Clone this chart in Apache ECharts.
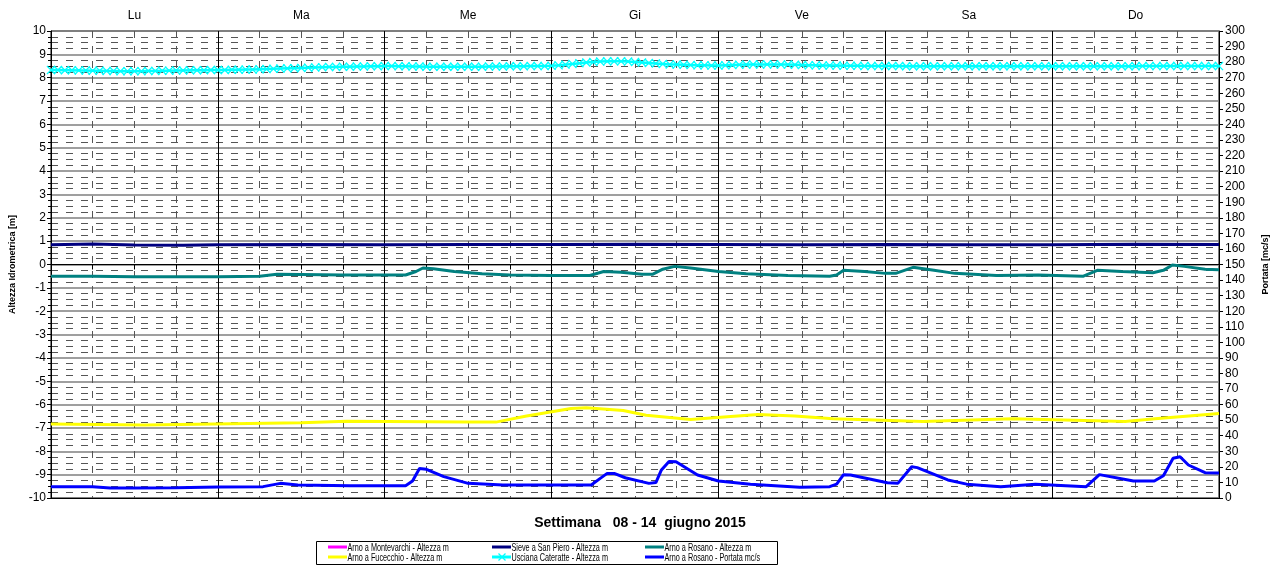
<!DOCTYPE html>
<html>
<head>
<meta charset="utf-8">
<script src="https://cdn.jsdelivr.net/npm/echarts@6/dist/echarts.min.js"></script>
<style>
  html, body { margin: 0; padding: 0; background: #fff; }
  #chart { width: 1278px; height: 567px; }
</style>
</head>
<body>
<div id="chart"></div>
<script>
// giorni della settimana (etichette in alto)
const days = ['Lu', 'Ma', 'Me', 'Gi', 'Ve', 'Sa', 'Do']
const title = 'Settimana   08 - 14  giugno 2015'

// ore dall'inizio della settimana
const montevarchi = []

const sievePiero = [
  [0, 0.85], [6, 0.88], [12, 0.84], [19, 0.82], [24, 0.85], [36, 0.86], [48, 0.85],
  [60, 0.86], [72, 0.86], [84, 0.87], [96, 0.86], [108, 0.85], [120, 0.86],
  [132, 0.85], [144, 0.85], [156, 0.87], [168, 0.86]
]

const rosanoAltezza = [
  [0, -0.5], [6, -0.5], [12, -0.52], [24, -0.52], [30, -0.5], [32.5, -0.42], [36, -0.43],
  [42, -0.45], [51, -0.45], [52.5, -0.3], [53.5, -0.15], [55, -0.18], [58, -0.3],
  [62, -0.4], [66, -0.45], [72, -0.47], [77.5, -0.47], [79.5, -0.3], [82, -0.33],
  [85, -0.42], [86.5, -0.42], [88, -0.2], [89.7, -0.08], [92, -0.15], [96, -0.3],
  [100, -0.4], [106, -0.47], [112, -0.5], [113, -0.45], [114, -0.25], [117, -0.3],
  [120, -0.38], [121.5, -0.38], [124, -0.12], [127, -0.25], [130, -0.38], [136, -0.47],
  [142, -0.45], [148.5, -0.5], [150.5, -0.25], [154, -0.3], [158.5, -0.35], [160, -0.25],
  [161.3, -0.02], [163, -0.08], [166, -0.2], [168, -0.22]
]

const fucecchio = [
  [0, -6.83], [13.5, -6.87], [21, -6.84], [36, -6.78], [42.5, -6.71], [60, -6.75],
  [64, -6.75], [68.4, -6.49], [74.8, -6.17], [77, -6.14], [82.3, -6.25], [85.6, -6.46],
  [92, -6.64], [96.3, -6.54], [101.7, -6.42], [107, -6.49], [112.5, -6.61], [125.4, -6.72],
  [138.3, -6.61], [154.5, -6.72], [158.8, -6.61], [166.3, -6.42], [168, -6.38]
]

// Usciana Cateratte, un valore per ora (0..168)
const usciana = [
  8.33, 8.33, 8.32, 8.32, 8.31, 8.31, 8.30, 8.30, 8.29, 8.29, 8.28, 8.28, 8.28, 8.28, 8.29, 8.29, 8.30, 8.30, 8.31, 8.31, 8.32, 8.32, 8.32, 8.33,
  8.33, 8.33, 8.34, 8.34, 8.35, 8.35, 8.36, 8.37, 8.38, 8.39, 8.40, 8.41, 8.42, 8.43, 8.44, 8.45, 8.46, 8.46, 8.47, 8.47, 8.48, 8.48, 8.49, 8.49,
  8.50, 8.50, 8.49, 8.49, 8.48, 8.48, 8.47, 8.47, 8.47, 8.47, 8.47, 8.47, 8.47, 8.47, 8.47, 8.48, 8.48, 8.48, 8.49, 8.49, 8.49, 8.50, 8.50, 8.50,
  8.51, 8.53, 8.56, 8.59, 8.62, 8.65, 8.67, 8.69, 8.70, 8.70, 8.70, 8.69, 8.67, 8.65, 8.63, 8.61, 8.59, 8.57, 8.56, 8.55, 8.54, 8.53, 8.53, 8.52,
  8.52, 8.53, 8.54, 8.55, 8.56, 8.57, 8.57, 8.57, 8.57, 8.56, 8.56, 8.55, 8.54, 8.53, 8.53, 8.52, 8.52, 8.52, 8.51, 8.51, 8.51, 8.50, 8.50, 8.50,
  8.50, 8.50, 8.50, 8.49, 8.49, 8.49, 8.49, 8.49, 8.49, 8.49, 8.49, 8.49, 8.49, 8.49, 8.49, 8.49, 8.49, 8.49, 8.49, 8.49, 8.49, 8.49, 8.49, 8.49,
  8.49, 8.49, 8.49, 8.49, 8.49, 8.49, 8.49, 8.49, 8.49, 8.49, 8.49, 8.49, 8.49, 8.50, 8.50, 8.50, 8.50, 8.50, 8.50, 8.50, 8.50, 8.50, 8.50, 8.50,
  8.50
]

const rosanoPortata = [
  [0, 7.3], [6, 7.3], [8.5, 6.4], [12, 6.5], [18, 6.6], [24, 7.0], [30.5, 7.3], [33, 9.4],
  [35.5, 8.4], [43, 7.9], [51, 7.9], [52, 10.9], [53, 19.0], [54, 18.4], [56.5, 13.7],
  [60, 9.4], [65, 8.4], [77.7, 8.4], [79, 12.6], [80, 15.8], [81, 15.8], [82.6, 13.0],
  [86, 9.4], [87, 9.9], [87.8, 18.0], [88.9, 23.5], [89.9, 23.3], [93, 14.8], [96, 10.9],
  [100.6, 8.8], [107.7, 6.9], [112, 7.3], [113, 8.9], [114, 15.0], [115, 14.8],
  [120.3, 9.8], [121.8, 9.4], [123.8, 20.1], [124.6, 19.5], [129, 11.6], [131.7, 8.9],
  [136.6, 7.3], [141.6, 8.8], [148.9, 7.3], [150.8, 15.0], [155.7, 10.9], [158.7, 10.9],
  [160, 14.3], [161.4, 25.5], [162.4, 26.5], [163.6, 21.2], [166, 16.3], [168, 16.0]
]

const FONT = "'Liberation Sans', Arial, sans-serif"
const X_SYMBOL = 'path://M0,1L1,0L5,4L9,0L10,1L6,5L10,9L9,10L5,6L1,10L0,9L4,5Z'

// serie: nome, colore
const NAMES = {
  montevarchi: 'Arno a Montevarchi - Altezza m',
  fucecchio: 'Arno a Fucecchio - Altezza m',
  sieve: 'Sieve a San Piero - Altezza m',
  usciana: 'Usciana Cateratte - Altezza m',
  rosanoH: 'Arno a Rosano - Altezza m',
  rosanoQ: 'Arno a Rosano - Portata mc/s'
}
const COLORS = {
  montevarchi: '#ff00ff', fucecchio: '#ffff00', sieve: '#000080',
  usciana: '#00ffff', rosanoH: '#008080', rosanoQ: '#0000ff'
}

const chart = echarts.init(document.getElementById('chart'))

const lineSeries = (key, data, extra) => Object.assign({
  name: NAMES[key],
  type: 'line',
  data,
  showSymbol: false,
  symbol: 'none',
  lineStyle: { color: COLORS[key], width: 3 },
  itemStyle: { color: COLORS[key] },
  emphasis: { disabled: true },
  z: 3
}, extra || {})

// legenda disegnata a mano (riquadro stile Excel, 3 colonne x 2 righe)
const legendLayout = [
  ['montevarchi', 328, 547], ['fucecchio', 328, 557],
  ['sieve', 492, 547], ['usciana', 492, 557],
  ['rosanoH', 645, 547], ['rosanoQ', 645, 557]
]
const legendGraphics = [{
  type: 'rect',
  left: 316, top: 541, z: 10,
  shape: { width: 461, height: 23 },
  style: { fill: '#fff', stroke: '#000', lineWidth: 1 }
}]
legendLayout.forEach(([key, x, y]) => {
  legendGraphics.push({
    type: 'rect', z: 11,
    shape: { x, y: y - 1.5, width: 19, height: 3 },
    style: { fill: COLORS[key] }
  })
  if (key === 'usciana') {
    legendGraphics.push({
      type: 'polyline', z: 12,
      shape: { points: [[x + 6.5, y - 3.5], [x + 13.5, y + 3.5]] },
      style: { stroke: COLORS[key], lineWidth: 1.2 }
    }, {
      type: 'polyline', z: 12,
      shape: { points: [[x + 13.5, y - 3.5], [x + 6.5, y + 3.5]] },
      style: { stroke: COLORS[key], lineWidth: 1.2 }
    })
  }
  legendGraphics.push({
    type: 'text', z: 11,
    x: x + 19.5, y: y + 0.5,
    scaleX: 0.66,
    style: {
      text: NAMES[key], fill: '#000', fontSize: 11, fontFamily: FONT,
      verticalAlign: 'middle', align: 'left'
    }
  })
})

chart.setOption({
  animation: false,
  backgroundColor: '#fff',
  textStyle: { fontFamily: FONT },
  title: {
    text: title,
    left: 635,
    textAlign: 'center',
    top: 511,
    textStyle: { fontSize: 14, fontWeight: 'bold', color: '#000', fontFamily: FONT }
  },
  grid: {
    left: 49, right: 57, top: 31, bottom: 69,
    show: true, borderColor: '#000', borderWidth: 1, backgroundColor: '#fff'
  },
  graphic: legendGraphics,
  xAxis: [
    {
      type: 'value',
      min: 0, max: 168, interval: 24,
      axisLine: { lineStyle: { color: '#000' } },
      axisTick: { show: true, length: 5, lineStyle: { color: '#000' } },
      minorTick: { show: true, splitNumber: 4, length: 5, lineStyle: { color: '#000' } },
      axisLabel: { show: false },
      splitLine: { show: true, lineStyle: { color: '#000', width: 1 } },
      minorSplitLine: { show: true, lineStyle: { color: '#555', width: 1, type: [7, 8] } }
    },
    {
      type: 'category',
      position: 'top',
      data: days,
      boundaryGap: true,
      axisLine: { show: true, lineStyle: { color: '#000' } },
      axisTick: { show: false },
      splitLine: { show: false },
      axisLabel: { margin: 9, fontSize: 12, color: '#000', fontFamily: FONT }
    }
  ],
  yAxis: [
    {
      type: 'value',
      min: -10, max: 10, interval: 1,
      name: 'Altezza Idrometrica [m]',
      nameLocation: 'middle',
      nameRotate: 90,
      nameGap: 34,
      nameTextStyle: { fontSize: 9, fontWeight: 'bold', color: '#000', fontFamily: FONT },
      axisLine: { show: true, lineStyle: { color: '#000' } },
      axisTick: { show: true, length: 4, lineStyle: { color: '#000' } },
      minorTick: { show: true, splitNumber: 4, length: 3, lineStyle: { color: '#000' } },
      axisLabel: { fontSize: 12, color: '#000', margin: 5, fontFamily: FONT },
      splitLine: { show: true, lineStyle: { color: '#7f7f7f', width: 1.5 } },
      minorSplitLine: { show: true, lineStyle: { color: '#555', width: 1, type: [7, 8] } }
    },
    {
      type: 'value',
      min: 0, max: 300, interval: 10,
      position: 'right',
      name: 'Portata [mc/s]',
      nameLocation: 'middle',
      nameRotate: 90,
      nameGap: 42,
      nameTextStyle: { fontSize: 9, fontWeight: 'bold', color: '#000', fontFamily: FONT },
      axisLine: { show: true, lineStyle: { color: '#000' } },
      axisTick: { show: true, length: 4, lineStyle: { color: '#000' } },
      axisLabel: { fontSize: 12, color: '#000', margin: 6, fontFamily: FONT },
      splitLine: { show: false }
    }
  ],
  series: [
    lineSeries('montevarchi', montevarchi),
    lineSeries('fucecchio', fucecchio),
    lineSeries('sieve', sievePiero),
    lineSeries('usciana', usciana.map((v, h) => [h, v]), {
      showSymbol: true,
      symbol: X_SYMBOL,
      symbolSize: 9,
      lineStyle: { color: COLORS.usciana, width: 2.5 }
    }),
    lineSeries('rosanoH', rosanoAltezza),
    lineSeries('rosanoQ', rosanoPortata, { yAxisIndex: 1 })
  ]
})
</script>
</body>
</html>
